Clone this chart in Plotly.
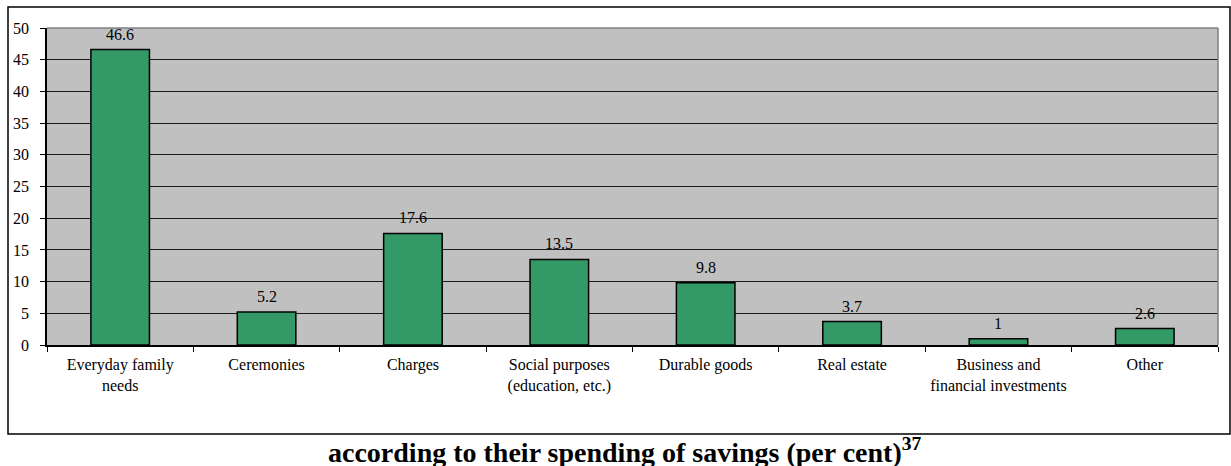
import plotly.graph_objects as go

categories = ["Everyday family<br>needs", "Ceremonies", "Charges",
              "Social purposes<br>(education, etc.)", "Durable goods",
              "Real estate", "Business and<br>financial investments", "Other"]
values = [46.6, 5.2, 17.6, 13.5, 9.8, 3.7, 1, 2.6]
value_labels = ["46.6", "5.2", "17.6", "13.5", "9.8", "3.7", "1", "2.6"]
y_ticks = [0, 5, 10, 15, 20, 25, 30, 35, 40, 45, 50]

FONT = "Liberation Serif"
W, H = 1231, 466
ML, MR, MT, MB = 47, 13, 28, 121
PW, PH = W - ML - MR, H - MT - MB

fig = go.Figure()
fig.add_trace(go.Bar(
    x=categories, y=values, width=0.4,
    marker=dict(color="#339966", line=dict(color="black", width=1.5)),
    hoverinfo="skip",
))

for c, v, t in zip(categories, values, value_labels):
    fig.add_annotation(x=c, y=v, text=t, showarrow=False, yanchor="bottom",
                       yshift=5, font=dict(family=FONT, size=16, color="black"))

def px_x(p):
    return (p - ML) / PW

def px_y(p):
    return (H - MB - p) / PH

# outer frame
fig.add_shape(type="rect", xref="paper", yref="paper",
              x0=px_x(8), x1=px_x(1230), y0=px_y(434), y1=px_y(7),
              line=dict(color="black", width=1.5), layer="above")
# top and right gray border of plot area
fig.add_shape(type="line", xref="paper", yref="paper", x0=0, x1=1, y0=1, y1=1,
              line=dict(color="#808080", width=1.5), layer="above")
fig.add_shape(type="line", xref="paper", yref="paper", x0=1, x1=1, y0=0, y1=1,
              line=dict(color="#808080", width=1.5), layer="above")

fig.add_annotation(xref="paper", yref="paper", x=px_x(625), y=px_y(450),
                   text="<b>according to their spending of savings (per cent)<sup>37</sup></b>",
                   showarrow=False, xanchor="center", yanchor="middle",
                   font=dict(family=FONT, size=28, color="black"))

fig.update_layout(
    width=W, height=H,
    margin=dict(l=ML, r=MR, t=MT, b=MB, pad=0),
    paper_bgcolor="white", plot_bgcolor="#C0C0C0",
    showlegend=False,
    bargap=0.6,
    font=dict(family=FONT, size=16, color="black"),
)
fig.update_xaxes(
    type="category", tickson="boundaries", ticks="outside", ticklen=5,
    tickcolor="black", showline=True, linecolor="black", linewidth=1.5,
    showgrid=False, tickfont=dict(family=FONT, size=16), ticklabelstandoff=4,
)
fig.update_yaxes(
    range=[0, 50], tickvals=y_ticks, ticks="outside", ticklen=5,
    tickcolor="black", showline=True, linecolor="black", linewidth=1.5,
    showgrid=True, gridcolor="#1a1a1a", gridwidth=1, zeroline=False,
    tickfont=dict(family=FONT, size=16), ticklabelstandoff=8,
)

fig.write_html("out.html")
